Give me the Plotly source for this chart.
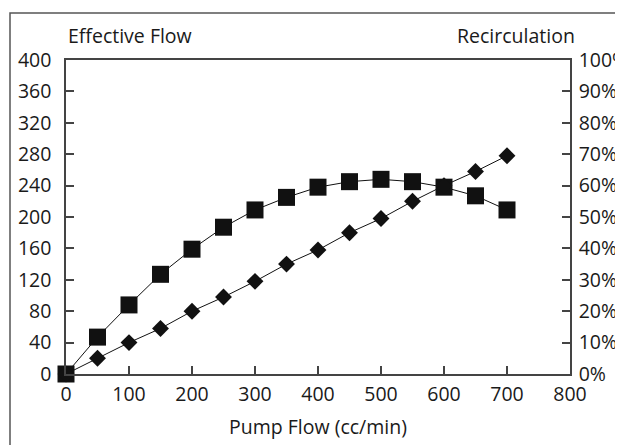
import plotly.graph_objects as go

pump_flow = [0, 50, 100, 150, 200, 250, 300, 350, 400, 450, 500, 550, 600, 650, 700]
effective_flow = [0, 47, 88, 127, 159, 187, 209, 225, 238, 245, 248, 245, 238, 227, 209]
recirculation_pct = [0, 5, 10, 14.5, 20, 24.5, 29.5, 35, 39.5, 45, 49.5, 55, 60, 64.5, 69.5]
x_ticks = [0, 100, 200, 300, 400, 500, 600, 700, 800]
left_ticks = [0, 40, 80, 120, 160, 200, 240, 280, 320, 360, 400]
right_ticks = [0, 10, 20, 30, 40, 50, 60, 70, 80, 90, 100]
right_labels = [f"{v}%" for v in right_ticks]

# the page body has an 8px default margin, so the figure is sized to end at the window edge
W, H = 615, 437
ML, MR, MT, MB = 58, 53, 52, 71
pw, ph = W - ML - MR, H - MT - MB

FONT = "Open Sans"
TXT = "#1a1a1a"
AX = "#444444"
FS = 19.5
WT = 500

fig = go.Figure()
fig.add_trace(go.Scatter(
    x=pump_flow, y=recirculation_pct, yaxis="y2", mode="lines+markers",
    line=dict(color="#111111", width=1),
    marker=dict(symbol="diamond", size=13, color="#111111"),
    showlegend=False, cliponaxis=False))
fig.add_trace(go.Scatter(
    x=pump_flow, y=effective_flow, mode="lines+markers",
    line=dict(color="#111111", width=1),
    marker=dict(symbol="square", size=17, color="#111111"),
    showlegend=False, cliponaxis=False))

fig.update_layout(
    width=W, height=H,
    margin=dict(l=ML, r=MR, t=MT, b=MB, pad=0, autoexpand=False),
    paper_bgcolor="white", plot_bgcolor="white",
    font=dict(family=FONT, size=FS, color=TXT, weight=WT),
    xaxis=dict(range=[0, 800], tickvals=x_ticks, automargin=False,
               ticks="inside", ticklen=8, tickwidth=1.5, tickcolor=AX,
               showline=True, linecolor=AX, linewidth=1.5, mirror=True,
               showgrid=False, zeroline=False, ticklabelstandoff=2,
               title=dict(text="Pump Flow (cc/min)", standoff=14,
                          font=dict(family=FONT, size=FS, color=TXT, weight=WT))),
    yaxis=dict(range=[0, 400], tickvals=left_ticks, automargin=False,
               ticks="inside", ticklen=8, tickwidth=1.5, tickcolor=AX,
               showline=True, linecolor=AX, linewidth=1.5,
               showgrid=False, zeroline=False, ticklabelstandoff=9),
    yaxis2=dict(range=[0, 100], tickvals=right_ticks, ticktext=right_labels,
                overlaying="y", side="right", automargin=False,
                ticks="inside", ticklen=8, tickwidth=1.5, tickcolor=AX,
                showline=True, linecolor=AX, linewidth=1.5,
                showgrid=False, zeroline=False, ticklabelstandoff=3),
    annotations=[
        dict(text="Effective Flow", xref="paper", yref="paper", x=0, y=1,
             xanchor="left", yanchor="bottom", yshift=9, showarrow=False,
             font=dict(family=FONT, size=FS, color=TXT, weight=WT)),
        dict(text="Recirculation", xref="paper", yref="paper", x=1, y=1,
             xanchor="right", yanchor="bottom", yshift=9, xshift=7, showarrow=False,
             font=dict(family=FONT, size=FS, color=TXT, weight=WT)),
    ],
    shapes=[dict(type="rect", xref="paper", yref="paper",
                 x0=(2 - ML) / pw, x1=(W + 5 - ML) / pw,
                 y0=-(H + 5 - MT - ph) / ph, y1=(H - 5 - MB) / ph,
                 line=dict(color="#555555", width=1.5), layer="below")],
)

fig.write_html("out.html")
